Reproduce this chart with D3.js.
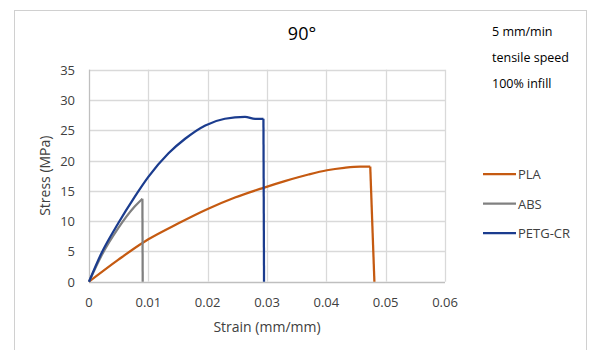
<!DOCTYPE html>
<html>
<head>
<meta charset="utf-8">
<script src="https://cdn.jsdelivr.net/npm/d3@7"></script>
<style>
  body { margin: 0; background: #fff; }
  svg { font-family: "Open Sans", "Noto Sans", sans-serif; }
</style>
</head>
<body>
<div id="chart"></div>
<script>
// strain (mm/mm) and stress (MPa)
const plaStrain = [0, 0.0049, 0.009, 0.01, 0.015, 0.02, 0.0246, 0.0294, 0.033, 0.037, 0.0401, 0.043, 0.0457, 0.0474, 0.0481];
const plaStress = [0, 3.6, 6.4, 7.0, 9.6, 12.0, 13.9, 15.5, 16.6, 17.7, 18.4, 18.8, 19.0, 19.0, 0];
const absStrain = [0, 0.0021, 0.0049, 0.0077, 0.009, 0.00905];
const absStress = [0, 4.3, 8.8, 12.4, 13.7, 0];
const petgStrain = [0, 0.0021, 0.0049, 0.0077, 0.01, 0.0134, 0.0162, 0.0196, 0.0229, 0.0263, 0.028, 0.0294, 0.0295];
const petgStress = [0, 4.7, 9.6, 14.0, 17.3, 21.2, 23.6, 25.8, 26.9, 27.2, 26.9, 26.9, 0];

const seriesNames = ["PLA", "ABS", "PETG-CR"];
const seriesColors = ["#c55a11", "#808080", "#1b3c8e"];
const xTicks = [0, 0.01, 0.02, 0.03, 0.04, 0.05, 0.06];
const yTicks = [0, 5, 10, 15, 20, 25, 30, 35];
const notes = ["5 mm/min", "tensile speed", "100% infill"];

const width = 591, height = 350;
const plot = { left: 89, right: 445, top: 69.7, bottom: 281.7 };

const svg = d3.select("#chart").append("svg")
  .attr("width", width)
  .attr("height", height);

// outer chart border
svg.append("rect")
  .attr("x", 14.5).attr("y", 10.5)
  .attr("width", 572).attr("height", 345)
  .attr("fill", "none")
  .attr("stroke", "#d0d0d0");

const x = d3.scaleLinear().domain([0, 0.06]).range([plot.left, plot.right]);
const y = d3.scaleLinear().domain([0, 35]).range([plot.bottom, plot.top]);

// grid
svg.append("g")
  .selectAll("line")
  .data(yTicks)
  .enter()
  .append("line")
  .attr("x1", plot.left).attr("x2", plot.right)
  .attr("y1", d => Math.round(y(d)) + 0.5).attr("y2", d => Math.round(y(d)) + 0.5)
  .attr("stroke", d => d === 0 ? "#bfbfbf" : "#d9d9d9")
  .attr("stroke-width", 1.3);

svg.append("g")
  .selectAll("line")
  .data(xTicks)
  .enter()
  .append("line")
  .attr("x1", d => Math.round(x(d)) + 0.5).attr("x2", d => Math.round(x(d)) + 0.5)
  .attr("y1", plot.top).attr("y2", plot.bottom)
  .attr("stroke", d => d === 0 ? "#bfbfbf" : "#d9d9d9")
  .attr("stroke-width", 1.3);

// tick labels
svg.append("g")
  .selectAll("text")
  .data(yTicks)
  .enter()
  .append("text")
  .attr("x", 75)
  .attr("y", d => y(d) + 5)
  .attr("text-anchor", "end")
  .attr("font-size", 13)
  .attr("fill", "#404040")
  .text(d => d);

svg.append("g")
  .selectAll("text")
  .data(xTicks)
  .enter()
  .append("text")
  .attr("x", d => x(d))
  .attr("y", 307)
  .attr("text-anchor", "middle")
  .attr("font-size", 13)
  .attr("fill", "#404040")
  .text(d => d === 0 ? "0" : d3.format(".2f")(d));

// axis titles
svg.append("text")
  .attr("x", (plot.left + plot.right) / 2)
  .attr("y", 332)
  .attr("text-anchor", "middle")
  .attr("font-size", 14)
  .attr("fill", "#404040")
  .text("Strain (mm/mm)");

svg.append("text")
  .attr("transform", "translate(50," + (plot.top + plot.bottom) / 2 + ")rotate(-90)")
  .attr("text-anchor", "middle")
  .attr("font-size", 14)
  .attr("fill", "#404040")
  .text("Stress (MPa)");

// chart title
svg.append("text")
  .attr("x", 302)
  .attr("y", 40)
  .attr("text-anchor", "middle")
  .attr("font-size", 18)
  .attr("fill", "#000")
  .text("90°");

// notes
svg.append("g")
  .selectAll("text")
  .data(notes)
  .enter()
  .append("text")
  .attr("x", 492)
  .attr("y", (d, i) => 36 + i * 26)
  .attr("font-size", 12.5)
  .attr("fill", "#000")
  .text(d => d);

// series
const series = [
  { strain: plaStrain, stress: plaStress },
  { strain: absStrain, stress: absStress },
  { strain: petgStrain, stress: petgStress }
];

const line = d3.line()
  .x(d => x(d[0]))
  .y(d => y(d[1]))
  .curve(d3.curveMonotoneX);

series.forEach((s, i) => {
  const pts = s.strain.map((v, j) => [v, s.stress[j]]);
  // smooth curve up to the break, then a straight drop
  const rise = pts.slice(0, pts.length - 1);
  const drop = pts.slice(pts.length - 2);
  svg.append("path")
    .attr("d", line(rise))
    .attr("fill", "none")
    .attr("stroke", seriesColors[i])
    .attr("stroke-width", 2.25)
    .attr("stroke-linejoin", "round");
  svg.append("path")
    .attr("d", d3.line().x(d => x(d[0])).y(d => y(d[1]))(drop))
    .attr("fill", "none")
    .attr("stroke", seriesColors[i])
    .attr("stroke-width", 2.25);
});

// legend
const legend = svg.append("g")
  .selectAll("g")
  .data(seriesNames)
  .enter()
  .append("g")
  .attr("transform", (d, i) => "translate(483," + (174 + i * 29.5) + ")");

legend.append("line")
  .attr("x1", 0).attr("x2", 33)
  .attr("stroke", (d, i) => seriesColors[i])
  .attr("stroke-width", 2.25);

legend.append("text")
  .attr("x", 35)
  .attr("y", 5)
  .attr("font-size", 13)
  .attr("fill", "#404040")
  .text(d => d);
</script>
</body>
</html>
